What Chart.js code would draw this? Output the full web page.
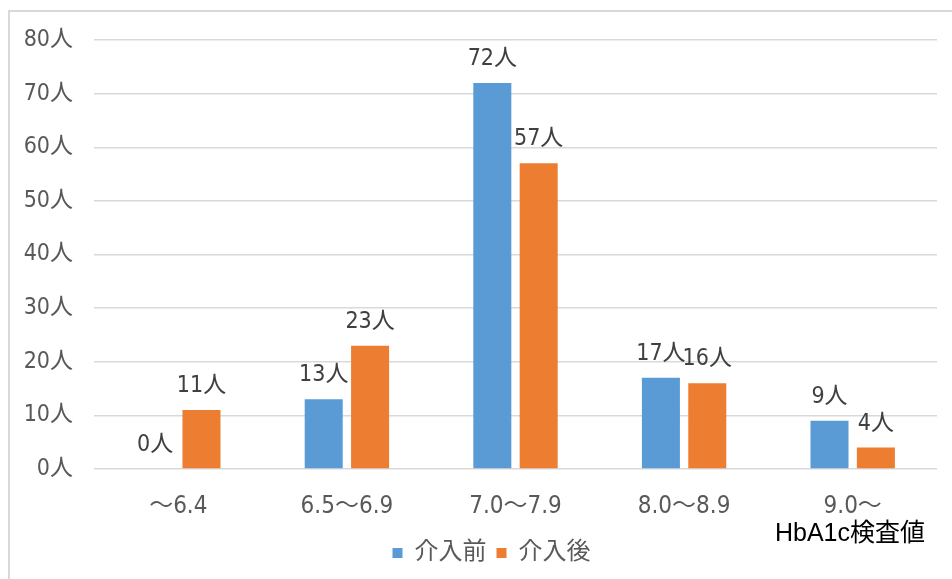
<!DOCTYPE html>
<html lang="ja">
<head>
<meta charset="utf-8">
<title>HbA1c検査値 分布</title>
<script src="https://cdn.jsdelivr.net/npm/chart.js@4.4.1/dist/chart.umd.min.js"></script>
<style>
  html, body { margin: 0; padding: 0; background: #ffffff; }
  #wrap { position: relative; width: 952px; height: 579px; }
</style>
</head>
<body>
<div id="wrap"><canvas id="chart" width="952" height="579"></canvas></div>
<script>
// HbA1c ranges and head counts before / after the intervention
const categories = ['～6.4', '6.5～6.9', '7.0～7.9', '8.0～8.9', '9.0～'];
const beforeCounts = [0, 13, 72, 17, 9];
const afterCounts = [11, 23, 57, 16, 4];
const seriesNames = ['介入前', '介入後'];
const yTicks = [0, 10, 20, 30, 40, 50, 60, 70, 80];
const unit = '人';
const axisCaption = 'HbA1c検査値';

const FONT = "'Liberation Sans Narrow', 'DejaVu Sans Condensed', 'Noto Sans CJK JP', sans-serif";
const BLUE = '#5B9BD5';
const ORANGE = '#ED7D31';
const GRID = '#d9d9d9';

Chart.defaults.font.family = FONT;
Chart.defaults.color = '#595959';

// light frame along the top and left edges
const framePlugin = {
  id: 'frame',
  beforeDraw(chart) {
    const ctx = chart.ctx;
    ctx.save();
    ctx.strokeStyle = GRID;
    ctx.lineWidth = 2;
    ctx.beginPath();
    ctx.moveTo(9, chart.height);
    ctx.lineTo(9, 11);
    ctx.lineTo(chart.width, 11);
    ctx.stroke();
    ctx.restore();
  }
};

// nudge the legend row a little to the right of centre
const legendShift = {
  id: 'legendShift',
  afterLayout(chart) {
    if (chart.legend) {
      chart.legend.left += 23;
      chart.legend.right += 23;
    }
  }
};

// value labels above each bar
const valueLabels = {
  id: 'valueLabels',
  afterDatasetsDraw(chart) {
    const ctx = chart.ctx;
    ctx.save();
    ctx.font = "23px " + FONT;
    ctx.fillStyle = '#404040';
    ctx.textAlign = 'center';
    ctx.textBaseline = 'alphabetic';
    chart.data.datasets.forEach((ds, i) => {
      const meta = chart.getDatasetMeta(i);
      meta.data.forEach((bar, j) => {
        ctx.fillText(ds.data[j] + unit, bar.x, bar.y - 18);
      });
    });
    ctx.restore();
  }
};

// caption under the last category label
const captionPlugin = {
  id: 'caption',
  afterDraw(chart) {
    const x = chart.scales.x;
    const ctx = chart.ctx;
    ctx.save();
    ctx.font = "25px 'Liberation Sans', 'Noto Sans CJK JP', sans-serif";
    ctx.fillStyle = '#000000';
    ctx.textAlign = 'right';
    ctx.textBaseline = 'middle';
    ctx.fillText(axisCaption, x.right - 12, x.top + 65);
    ctx.restore();
  }
};

new Chart(document.getElementById('chart'), {
  type: 'bar',
  data: {
    labels: categories,
    datasets: [
      { label: seriesNames[0], data: beforeCounts, backgroundColor: BLUE,
        categoryPercentage: 0.55, barPercentage: 0.82 },
      { label: seriesNames[1], data: afterCounts, backgroundColor: ORANGE,
        categoryPercentage: 0.55, barPercentage: 0.82 }
    ]
  },
  options: {
    responsive: false,
    animation: false,
    layout: { padding: { top: 40, right: 15, bottom: 4, left: 0 } },
    plugins: {
      legend: {
        position: 'bottom',
        labels: {
          boxWidth: 10, boxHeight: 10, padding: 10,
          color: '#595959',
          font: { size: 24 }
        }
      },
      tooltip: { enabled: false }
    },
    scales: {
      x: {
        grid: { display: false },
        border: { display: false },
        ticks: { color: '#595959', font: { size: 24 }, padding: 15, maxRotation: 0 },
        afterFit(scale) { scale.height = 62; }
      },
      y: {
        min: 0, max: 80,
        afterBuildTicks(scale) { scale.ticks = yTicks.map(v => ({ value: v })); },
        grid: { color: GRID, lineWidth: 1.5, drawTicks: false },
        border: { display: false },
        ticks: {
          color: '#595959', font: { size: 23 }, padding: 21,
          callback: v => v + unit
        },
        afterFit(scale) { scale.width = 94; }
      }
    }
  },
  plugins: [framePlugin, legendShift, valueLabels, captionPlugin]
});
</script>
</body>
</html>
